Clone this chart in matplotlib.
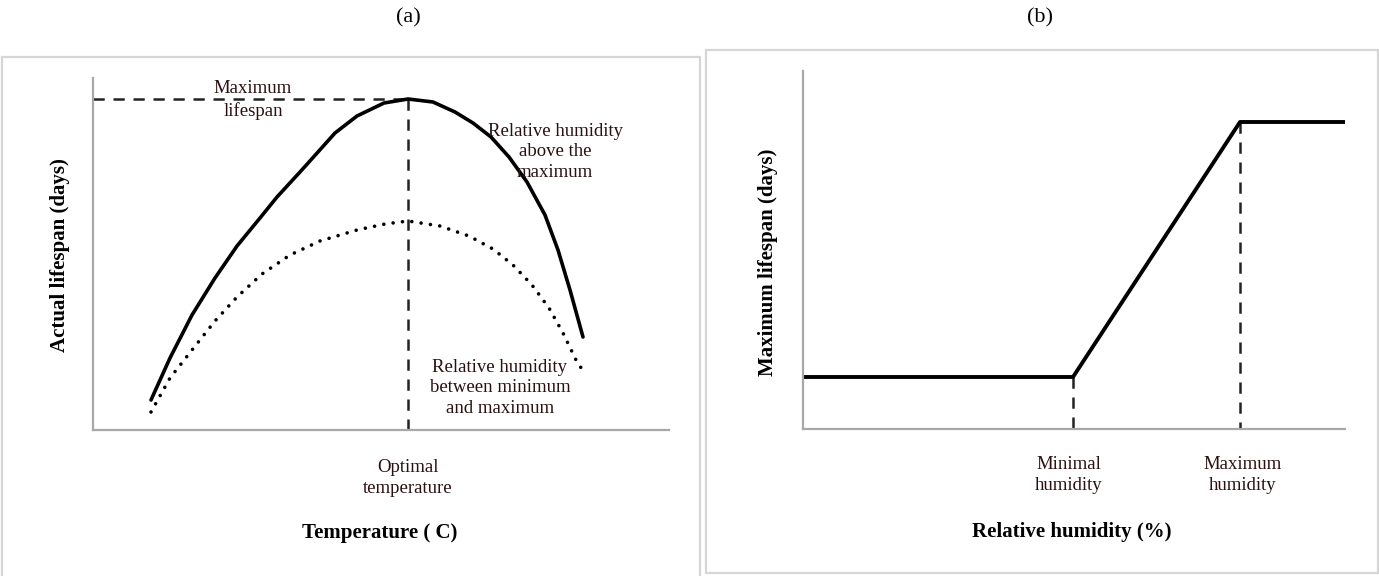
import matplotlib.pyplot as plt
from matplotlib.patches import Rectangle

W, H = 1379, 576

# (a) actual lifespan vs temperature (arbitrary units, no ticks)
temp_x = [58, 77, 99, 122, 144, 167, 184, 207, 225, 242, 264, 291, 315,
          340, 362, 380, 398, 416, 434, 452, 465, 477, 490]
life_above_max = [30, 72, 115, 152, 184, 212, 233, 258, 278, 297, 314, 327, 331,
                  328, 318, 307, 293, 273, 248, 215, 180, 140, 93]
temp_x_dot = [58, 77, 99, 122, 144, 169, 197, 227, 264, 292, 315,
              347, 376, 400, 420, 439, 456, 470, 483, 492]
life_between = [18, 52, 80, 109, 133, 156, 175, 189, 200, 206, 209,
                204, 194, 181, 165, 145, 122, 97, 70, 56]
t_opt = 315
life_max = 331

# (b) maximum lifespan vs relative humidity
rh_x = [0, 270, 437, 542]
max_life = [52, 52, 307, 307]
rh_min, rh_max = 270, 437

TXT = '#2a1010'
plt.rcParams['font.family'] = ['Liberation Serif', 'DejaVu Serif']

fig = plt.figure(figsize=(W / 100, H / 100), dpi=100)


def fx(x):
    return x / W


def fy(y):
    return 1 - y / H


def add_box(x0, y0, x1, y1):
    fig.patches.append(Rectangle((fx(x0), fy(y1)), fx(x1 - x0), (y1 - y0) / H,
                                 transform=fig.transFigure, fill=False,
                                 edgecolor='#d6d6d6', lw=1.6))


def add_axes(x0, y0, x1, y1):
    ax = fig.add_axes([fx(x0), fy(y1), fx(x1 - x0), (y1 - y0) / H])
    ax.set_xlim(0, x1 - x0)
    ax.set_ylim(0, y1 - y0)
    for s in ['top', 'right']:
        ax.spines[s].set_visible(False)
    for s in ['left', 'bottom']:
        ax.spines[s].set_color('#a8a8a8')
        ax.spines[s].set_linewidth(1.6)
    ax.set_xticks([])
    ax.set_yticks([])
    ax.patch.set_alpha(0)
    return ax


def label(x, y, s, **kw):
    kw.setdefault('fontsize', 13.5)
    kw.setdefault('color', TXT)
    fig.text(fx(x), fy(y), s, ha='center', va='center', linespacing=1.3, **kw)


def axis_title(x, y, s, **kw):
    fig.text(fx(x), fy(y), s, ha='center', va='center', fontsize=15,
             fontweight='bold', color='black', **kw)


add_box(2, 57, 700, 590)
add_box(706, 50, 1378, 573)

dash = dict(color='#222222', lw=1.8, linestyle=(0, (4.5, 3.5)))

# panel (a)
ax1 = add_axes(93, 78, 669, 430)
ax1.plot([0, t_opt], [life_max, life_max], **dash)
ax1.plot([t_opt, t_opt], [life_max, 0], **dash)
ax1.plot(temp_x, life_above_max, color='black', lw=2.6, solid_capstyle='round',
         solid_joinstyle='round')
ax1.plot(temp_x_dot, life_between, color='black', lw=2.6,
         linestyle=(0, (0.01, 2.6)), dash_capstyle='round')

label(408, 18, '(a)', fontsize=16, color='black')
label(253, 100, 'Maximum\nlifespan')
label(555, 152, 'Relative humidity\nabove the\nmaximum')
label(500, 388, 'Relative humidity\nbetween minimum\nand maximum')
label(408, 478, 'Optimal\ntemperature')
axis_title(380, 533, 'Temperature ( C)')
axis_title(60, 255, 'Actual lifespan (days)', rotation=90)

# panel (b)
ax2 = add_axes(803, 71, 1345, 429)
ax2.plot([rh_min, rh_min], [max_life[1], 0], **dash)
ax2.plot([rh_max, rh_max], [max_life[2], 0], **dash)
ax2.plot(rh_x, max_life, color='black', lw=2.8, solid_joinstyle='round')

label(1040, 18, '(b)', fontsize=16, color='black')
label(1069, 475, 'Minimal\nhumidity')
label(1243, 475, 'Maximum\nhumidity')
axis_title(1072, 532, 'Relative humidity (%)')
axis_title(768, 262, 'Maximum lifespan (days)', rotation=90)

fig.savefig('out.png', dpi=100, facecolor='white')
